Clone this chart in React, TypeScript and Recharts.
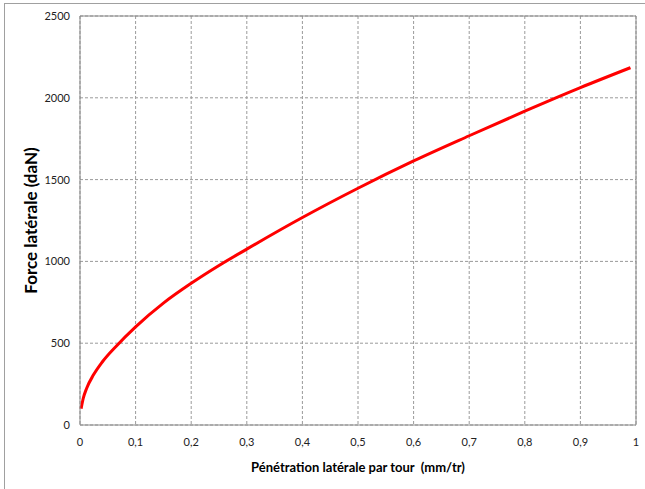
import { LineChart, Line, XAxis, YAxis, CartesianGrid, ReferenceLine } from 'recharts';

// values
const penetration = [0.002, 0.006, 0.012, 0.024, 0.04, 0.066, 0.1, 0.15, 0.2, 0.25, 0.3, 0.4, 0.5, 0.6, 0.7, 0.8, 0.9, 0.99];
const force = [100, 165, 225, 305, 385, 485, 600, 745, 866, 975, 1075, 1268, 1447, 1614, 1768, 1918, 2062, 2184];
const xTicks = [0, 0.1, 0.2, 0.3, 0.4, 0.5, 0.6, 0.7, 0.8, 0.9, 1];
const yTicks = [0, 500, 1000, 1500, 2000, 2500];

const data = penetration.map((p, i) => ({ p, f: force[i] }));

const font = 'Lato, "Open Sans", sans-serif';
const fmt = (v: number) => String(v).replace('.', ',');

export default function App() {
  return (
    <div style={{ position: 'absolute', left: 0, top: 0, width: 645, height: 489, background: '#fff', fontFamily: font }}>
      <div
        style={{
          position: 'absolute',
          left: 4,
          top: 3,
          width: 641,
          height: 486,
          borderLeft: '1px solid #a0a0a0',
          borderTop: '1px solid #a0a0a0',
        }}
      />
      <LineChart
        width={645}
        height={489}
        data={data}
        margin={{ top: 16, right: 9, bottom: 0, left: 0 }}
        style={{ position: 'absolute', left: 0, top: 0 }}
      >
        <CartesianGrid stroke="#9a9a9a" strokeDasharray="3 2" />
        <XAxis
          dataKey="p"
          type="number"
          domain={[0, 1]}
          ticks={xTicks}
          tickFormatter={fmt}
          height={64}
          tickSize={0}
          tickMargin={13}
          stroke="#888"
          tick={{ fontSize: 11, fill: '#222', fontFamily: font }}
          label={{
            value: 'Pénétration latérale par tour \u00a0(mm/tr)',
            position: 'insideBottom',
            offset: 17,
            style: { fontSize: 13, fontWeight: 700, fill: '#000', fontFamily: font },
          }}
        />
        <YAxis
          type="number"
          domain={[0, 2500]}
          ticks={yTicks}
          width={80}
          tickSize={0}
          tickMargin={10}
          stroke="#888"
          tick={{ fontSize: 11, fill: '#222', fontFamily: font }}
          label={{
            content: (props: any) => {
              const vb = props.viewBox;
              const cx = vb.x + 30;
              const cy = vb.y + vb.height / 2;
              return (
                <text
                  x={cx}
                  y={cy}
                  transform={`rotate(-90 ${cx} ${cy})`}
                  textAnchor="middle"
                  dominantBaseline="central"
                  style={{ fontSize: 17, fontWeight: 700, fill: '#000', fontFamily: font }}
                >
                  Force latérale (daN)
                </text>
              );
            },
          }}
        />
        <ReferenceLine y={2500} stroke="#888" />
        <ReferenceLine x={1} stroke="#888" />
        <Line
          type="monotone"
          dataKey="f"
          stroke="#ff0000"
          strokeWidth={3}
          dot={false}
          isAnimationActive={false}
        />
      </LineChart>
    </div>
  );
}
